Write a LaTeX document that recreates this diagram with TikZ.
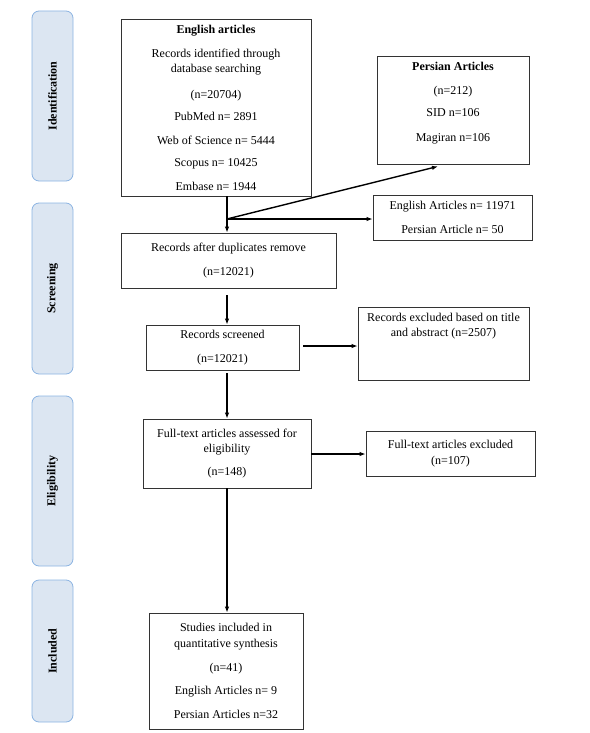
\documentclass[tikz,border=0pt]{standalone}
\usepackage{fontspec}
\setmainfont{Liberation Serif}
\usetikzlibrary{arrows.meta,calc}
\definecolor{stagefill}{HTML}{DCE6F2}
\definecolor{stagedraw}{HTML}{8CB4E2}
\begin{document}
\begin{tikzpicture}[x=1pt,y=-1pt,
  box/.style={draw=black!80, line width=0.8pt, inner sep=0pt, align=center, font=\fontsize{12}{15.5}\selectfont},
  stage/.style={draw=stagedraw, fill=stagefill, rounded corners=7pt, line width=0.8pt, rotate=90, minimum height=41pt, inner sep=0pt, font=\bfseries\fontsize{12}{14}\selectfont},
  txt/.style={inner sep=0pt, align=center, font=\fontsize{12}{15.5}\selectfont},
  arr/.style={-{Latex[length=6pt,width=4.5pt]}, line width=1.4pt}]
\useasboundingbox (0,0) rectangle (589,733);
% stages
\node[stage, minimum width=170pt] (sid) at (52.5,96) {Identification};
\node[stage, minimum width=171pt] (ssc) at (52.5,288.5) {Screening};
\node[stage, minimum width=170pt] (sel) at (52.5,481) {Eligibility};
\node[stage, minimum width=142pt] (sin) at (52.5,651) {Included};
% boxes
\node[box, minimum width=190pt, minimum height=177pt] (eng) at (216,107.5)
  {{\bfseries English articles}\\[8.5pt]Records identified through\\database searching\\[10pt](n=20704)\\[6.5pt]PubMed n= 2891\\[8.5pt]Web of Science n= 5444\\[6.5pt]Scopus n= 10425\\[8.5pt]Embase n= 1944};
\node[box, minimum width=152pt, minimum height=108pt] (per) at (453,110) {};
\node[txt, anchor=north] (pertxt) at ($(per.north)+(0,6)$)
  {{\bfseries Persian Articles}\\[9pt](n=212)\\[6.5pt]SID n=106\\[9pt]Magiran n=106};
\node[box, minimum width=159pt, minimum height=45pt] (ea) at (452.5,217.5)
  {English Articles n= 11971\\[9pt]Persian Article n= 50};
\node[box, minimum width=215pt, minimum height=55pt] (dup) at (228.5,260.5)
  {Records after duplicates remove\\[8.5pt](n=12021)};
\node[box, minimum width=153pt, minimum height=45pt] (scr) at (222.5,347.5)
  {Records screened\\[8.5pt](n=12021)};
\node[box, minimum width=171pt, minimum height=73pt] (exc) at (443.5,343.5) {};
\node[txt, anchor=north] (exctxt) at ($(exc.north)+(0,6)$)
  {Records excluded based on title\\and abstract (n=2507)};
\node[box, minimum width=168pt, minimum height=69pt] (ft) at (227,453.5)
  {Full-text articles assessed for\\eligibility\\[7.5pt](n=148)};
\node[box, minimum width=169pt, minimum height=45pt] (fte) at (450.5,453.5)
  {Full-text articles excluded\\(n=107)};
\node[box, minimum width=154pt, minimum height=116pt] (inc) at (226,671)
  {Studies included in\\quantitative synthesis\\[9pt](n=41)\\[7.5pt]English Articles n= 9\\[8.5pt]Persian Articles n=32};
% connectors
\coordinate (spine) at (227,0);
\coordinate (junc) at (227,219);
\coordinate (scrout) at (0,346);
\coordinate (ftout) at (0,454);
\coordinate (pertip) at ($(per.south)+(-15,2)$);
\draw[arr] (eng.south -| spine) -- (dup.north -| spine);
\draw[arr] (junc) -- (ea.west |- junc);
\draw[arr] (junc) -- (pertip);
\draw[arr, shorten <=7pt] (dup.south -| spine) -- (scr.north -| spine);
\draw[arr, shorten <=4pt] (scr.east |- scrout) -- (exc.west |- scrout);
\draw[arr, shorten <=3pt] (scr.south -| spine) -- (ft.north -| spine);
\draw[arr] (ft.east |- ftout) -- (fte.west |- ftout);
\draw[arr] (ft.south -| spine) -- (inc.north -| spine);
\end{tikzpicture}
\end{document}
